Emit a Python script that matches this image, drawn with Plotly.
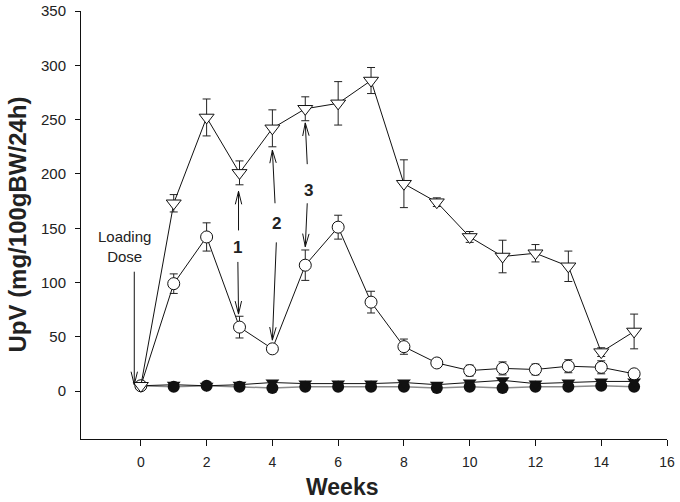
import plotly.graph_objects as go
import math

weeks = list(range(0, 16))

# Open triangles (top series)
tri_open = [5, 173, 252, 201, 242, 260, 265, 286, 191, 174, 142, 124, 127, 115, 36, 55]
tri_open_err = [0, 8, 17, 11, 17, 11, 20, 12, 22, 4, 5, 15, 8, 14, 4, 16]

# Open circles
circ_open = [5, 99, 142, 59, 39, 116, 151, 82, 41, 26, 19, 21, 20, 23, 22, 16]
circ_open_err = [0, 9, 13, 10, 3, 14, 11, 10, 7, 4, 5, 6, 5, 6, 6, 3]

# Filled triangles
tri_fill = [5, 6, 5, 6, 8, 7, 7, 7, 8, 6, 8, 10, 7, 8, 9, 9]
# Filled circles
circ_fill = [5, 4, 5, 4, 3, 4, 4, 4, 4, 3, 4, 3, 4, 4, 5, 4]

x_ticks = [0, 2, 4, 6, 8, 10, 12, 14, 16]
y_ticks = [0, 50, 100, 150, 200, 250, 300, 350]

X_RANGE = [-1.82, 16]
Y_RANGE = [-44, 350]

FONT = "Liberation Sans, Arial, sans-serif"

fig = go.Figure()

fig.add_trace(go.Scatter(
    x=weeks, y=circ_fill, mode="lines+markers",
    line=dict(color="#8a8a8a", width=1.5),
    marker=dict(symbol="circle", size=12, color="#111111"),
    showlegend=False))

fig.add_trace(go.Scatter(
    x=weeks, y=tri_fill, mode="lines+markers",
    line=dict(color="#111111", width=1),
    marker=dict(symbol="triangle-down", size=12, color="#111111"),
    showlegend=False))

fig.add_trace(go.Scatter(
    x=weeks, y=circ_open, mode="lines+markers",
    line=dict(color="#111111", width=1),
    marker=dict(symbol="circle", size=12, color="white",
                line=dict(color="#111111", width=1)),
    error_y=dict(type="data", array=circ_open_err, color="#222222",
                 thickness=1, width=4),
    showlegend=False))

fig.add_trace(go.Scatter(
    x=weeks, y=tri_open, mode="lines+markers",
    line=dict(color="#111111", width=1),
    marker=dict(symbol="triangle-down", size=13, color="white",
                line=dict(color="#111111", width=1)),
    error_y=dict(type="data", array=tri_open_err, color="#222222",
                 thickness=1, width=4),
    showlegend=False))

# pixel scale (px per data unit) for arrow head geometry
PLOT_W = 586
PLOT_H = 428
SX = PLOT_W / (X_RANGE[1] - X_RANGE[0])
SY = PLOT_H / (Y_RANGE[1] - Y_RANGE[0])

shapes = []


def arrow(x0, y0, x1, y1, head_len=13, head_half=3.2):
    # shaft
    shapes.append(dict(type="line", xref="x", yref="y", x0=x0, y0=y0, x1=x1, y1=y1,
                       line=dict(color="#111111", width=1)))
    dx = (x1 - x0) * SX
    dy = (y1 - y0) * SY
    L = math.hypot(dx, dy)
    ux, uy = dx / L, dy / L
    px, py = -uy, ux
    bx = x1 * SX - ux * head_len
    by = y1 * SY - uy * head_len
    lx = (bx + px * head_half) / SX
    ly = (by + py * head_half) / SY
    rx = (bx - px * head_half) / SX
    ry = (by - py * head_half) / SY
    path = f"M {lx},{ly} L {x1},{y1} L {rx},{ry}"
    shapes.append(dict(type="path", xref="x", yref="y", path=path,
                       line=dict(color="#111111", width=1)))


# Loading dose arrow
arrow(-0.2, 110, -0.2, 6)
# 1
arrow(2.97, 148, 2.97, 184)
arrow(2.95, 119, 2.97, 71)
# 2
arrow(4.08, 173, 4.0, 222)
arrow(4.12, 137, 4.0, 47)
# 3
arrow(5.06, 209, 5.0, 247)
arrow(5.06, 173, 5.0, 133)

annotations = [
    dict(text="Loading<br>Dose", x=-0.5, y=133, xref="x", yref="y", showarrow=False,
         font=dict(family=FONT, size=15, color="#222222"), align="center"),
    dict(text="<b>1</b>", x=2.93, y=132, xref="x", yref="y", showarrow=False,
         font=dict(family=FONT, size=17, color="#222222")),
    dict(text="<b>2</b>", x=4.12, y=154, xref="x", yref="y", showarrow=False,
         font=dict(family=FONT, size=17, color="#222222")),
    dict(text="<b>3</b>", x=5.09, y=185, xref="x", yref="y", showarrow=False,
         font=dict(family=FONT, size=17, color="#222222")),
    dict(text="<b>Weeks</b>", x=0.445, y=-0.112, xref="paper", yref="paper",
         showarrow=False, font=dict(family=FONT, size=23, color="#222222"),
         xanchor="center", yanchor="middle"),
    dict(text="<b>UpV (mg/100gBW/24h)</b>", x=-0.11, y=0.5, xref="paper", yref="paper",
         showarrow=False, textangle=-90, font=dict(family=FONT, size=24, color="#222222"),
         xanchor="center", yanchor="middle"),
]

fig.update_layout(
    width=680, height=502,
    margin=dict(l=81, r=13, t=11, b=63, autoexpand=False),
    paper_bgcolor="white", plot_bgcolor="white",
    font=dict(family=FONT, size=14, color="#222222"),
    shapes=shapes,
    annotations=annotations,
    showlegend=False,
)

fig.update_xaxes(
    range=X_RANGE, tickvals=x_ticks, ticktext=[str(v) for v in x_ticks],
    showgrid=False, zeroline=False, showline=True, linecolor="#111111", linewidth=1,
    ticks="outside", ticklen=6, tickcolor="#111111", tickwidth=1, automargin=False,
    tickfont=dict(family=FONT, size=14, color="#222222"), ticklabelstandoff=4,
)
fig.update_yaxes(
    range=Y_RANGE, tickvals=y_ticks, ticktext=[str(v) for v in y_ticks],
    showgrid=False, zeroline=False, showline=True, linecolor="#111111", linewidth=1,
    ticks="outside", ticklen=5, tickcolor="#111111", tickwidth=1, automargin=False,
    tickfont=dict(family=FONT, size=15, color="#222222"), ticklabelstandoff=6,
)

fig.write_html("out.html", config={"displayModeBar": False},
               post_script="document.body.style.margin='0px';document.body.style.padding='0px';")
